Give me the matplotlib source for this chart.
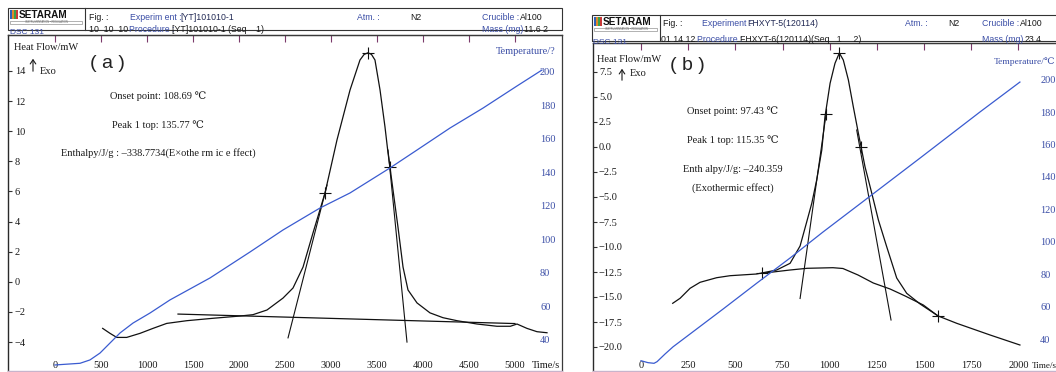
import matplotlib
matplotlib.use('Agg')
import matplotlib.pyplot as plt
from matplotlib.patches import Rectangle, FancyArrowPatch
from matplotlib.lines import Line2D

W, H = 1056, 372
SERIF = ['Liberation Serif', 'DejaVu Serif']
SANS = ['Liberation Sans', 'DejaVu Sans']
plt.rcParams['font.family'] = SERIF
BLUE_LINE = '#3a5bd0'
BLUE_TXT = '#3b4ea6'
TICK_PURPLE = '#7b3a6b'
INK = '#1a1a1a'

# ---------------- data: panel (a) ----------------
time_ticks_a = [0, 500, 1000, 1500, 2000, 2500, 3000, 3500, 4000, 4500, 5000]
hf_ticks_a = [-4, -2, 0, 2, 4, 6, 8, 10, 12, 14]
hf_labels_a = ['\u22124', '\u22122', '0', '2', '4', '6', '8', '10', '12', '14']
temp_ticks = [40, 60, 80, 100, 120, 140, 160, 180, 200]

time_a_temp = [0, 272, 380, 489, 598, 707, 848, 1033, 1250, 1685, 2120, 2478,
               2880, 3207, 3641, 3935, 4293, 4652, 5022, 5293]
temp_a = [25.1, 26.1, 28.1, 32.2, 38.2, 44.2, 50.1, 56.1, 63.9, 77.0, 92.5, 105.6,
          118.7, 127.7, 142.6, 153.3, 166.4, 178.3, 191.5, 201.0]

time_a_hf = [518, 598, 671, 779, 924, 1065, 1214, 1432, 1717, 2011, 2152, 2304,
             2478, 2587, 2696, 2804, 2935, 3065, 3207, 3315, 3360, 3402, 3440, 3478,
             3533, 3587, 3620, 3641, 3674, 3728, 3783, 3837, 3935, 4076, 4217, 4370,
             4587, 4804, 4950, 5022, 5130, 5239, 5348]
hf_a = [-3.09, -3.42, -3.69, -3.69, -3.42, -3.09, -2.76, -2.58, -2.42, -2.27, -2.18, -1.87,
        -1.08, -0.41, 0.98, 3.24, 5.90, 9.42, 12.74, 14.73, 15.10, 15.21, 15.10, 14.73,
        12.74, 10.28, 8.55, 7.62, 6.10, 3.64, 0.98, -0.54, -1.40, -2.06, -2.38, -2.58,
        -2.80, -2.95, -2.95, -2.80, -3.09, -3.31, -3.38]

base_a_time = [1337, 5000]
base_a_hf = [-2.14, -2.77]
tan1_a_time = [2533, 2957]
tan1_a_hf = [-3.72, 6.43]
tan2_a_time = [3620, 3826]
tan2_a_hf = [8.75, -4.0]
mark_a_time = [2935, 3641, 3402]
mark_a_hf = [5.9, 7.62, 15.21]

# ---------------- data: panel (b) ----------------
time_ticks_b = [0, 250, 500, 750, 1000, 1250, 1500, 1750, 2000]
hf_ticks_b = [-20.0, -17.5, -15.0, -12.5, -10.0, -7.5, -5.0, -2.5, 0.0, 2.5, 5.0, 7.5]
hf_labels_b = ['\u221220.0', '\u221217.5', '\u221215.0', '\u221212.5', '\u221210.0',
               '\u22127.5', '\u22125.0', '\u22122.5', '0.0', '2.5', '5.0', '7.5']

time_b_temp = [0, 37, 69, 85, 127, 170, 260, 435, 615, 790, 964, 1229, 1479, 1796, 2008]
temp_b = [26.6, 25.4, 25.0, 26.0, 30.7, 35.2, 43.1, 58.5, 74.6, 90.0, 106.0, 129.5,
          151.7, 180.1, 198.6]

time_b_hf = [168, 207, 260, 313, 401, 472, 613, 719, 790, 843, 878, 905, 931, 958, 975,
             1002, 1028, 1051, 1072, 1099, 1125, 1152, 1187, 1223, 1258, 1302, 1355,
             1408, 1479, 1575, 1673, 1850, 2008]
hf_b = [-15.63, -15.13, -14.13, -13.53, -13.07, -12.87, -12.70, -12.30, -11.63, -9.90,
        -7.50, -5.63, -3.30, -0.30, 3.03, 6.37, 8.37, 9.40, 8.70, 6.70, 4.03, 1.37,
        -1.97, -4.63, -7.30, -9.97, -13.10, -14.63, -15.70, -16.90, -17.63, -18.80, -19.80]

base_b_time = [641, 790, 880, 1017, 1070, 1150, 1231, 1320, 1400, 1496, 1574]
base_b_hf = [-12.63, -12.30, -12.13, -12.07, -12.15, -12.8, -13.6, -14.2, -14.9, -15.8, -16.9]
tan1_b_time = [843, 983]
tan1_b_hf = [-15.15, 3.6]
tan2_b_time = [1143, 1325]
tan2_b_hf = [1.7, -17.3]
mark_b_time = [980, 1164, 1051, 641, 1574]
mark_b_hf = [3.3, 0.0, 9.4, -12.63, -16.9]

# ---------------- figure ----------------
fig = plt.figure(figsize=(W / 100, H / 100), dpi=100)
fig.patch.set_facecolor('white')


def rect(x0, y0, x1, y1):
    return [x0 / W, 1 - y1 / H, (x1 - x0) / W, (y1 - y0) / H]


def fx(x):
    return x / W


def fy(y):
    return 1 - y / H


def ftext(x, y, s, **kw):
    kw.setdefault('fontsize', 6.3)
    kw.setdefault('family', SANS)
    kw.setdefault('va', 'center')
    fig.text(fx(x), fy(y), s, **kw)


def fline(xs, ys, **kw):
    kw.setdefault('color', '#333333')
    kw.setdefault('lw', 0.8)
    fig.add_artist(Line2D([fx(v) for v in xs], [fy(v) for v in ys], **kw))


def frect(x0, y0, x1, y1, **kw):
    kw.setdefault('fill', False)
    kw.setdefault('ec', '#333333')
    kw.setdefault('lw', 0.8)
    fig.add_artist(Rectangle((fx(x0), fy(y1)), (x1 - x0) / W, (y1 - y0) / H,
                             transform=fig.transFigure, **kw))


def logo(x0, y0, x1):
    cols = ['#2e5fb8', '#e08a2a', '#3aa14a', '#c83a3a']
    for i, c in enumerate(cols):
        frect(x0 + 2 + i * 2, y0 + 2, x0 + 4 + i * 2, y0 + 11, fill=True, ec='none', fc=c)
    ftext(x0 + 11, y0 + 7, 'SETARAM', fontsize=7.2, weight='bold', color='#111111')
    frect(x0 + 2, y0 + 12.5, x1 - 3, y0 + 16, lw=0.4, ec='#777777')
    ftext((x0 + x1) / 2, y0 + 14.3, 'INSTRUMENTATION \u2022 REGULATION', fontsize=1.8,
          ha='center', color='#666666')


def header(x0, y0, x1, y1, xdiv, rows):
    frect(x0, y0, x1, y1)
    fline([xdiv, xdiv], [y0, y1])
    logo(x0, y0, xdiv)
    for (x, y, s, c) in rows:
        ftext(x, y, s, color=c)


# header (a)
header(8, 8, 562, 30, 85, [
    (89, 17, 'Fig. :', INK), (130, 17, 'Experim ent :', BLUE_TXT), (180, 17, '[YT]101010-1', '#222a55'),
    (357, 17, '\u0391tm. :', BLUE_TXT), (410, 17, 'N2', INK),
    (482, 17, 'Crucible :', BLUE_TXT), (520, 17, 'Al100', INK),
    (89, 29, '10  10  10', INK), (129, 29, 'Procedure :', BLUE_TXT), (172, 29, '[YT]101010-1 (Seq    1)', INK),
    (482, 29, 'Mass (mg)', BLUE_TXT), (524, 29, '11.6 2', INK),
])
ftext(10, 33, 'DSC 131', color=BLUE_TXT, fontsize=6)

# header (b)
header(592, 15, 1062, 41, 660, [
    (663, 23, 'Fig. :', INK), (702, 23, 'Experiment :', BLUE_TXT), (747, 23, 'FHXYT-5(120114)', '#222a55'),
    (905, 23, 'Atm. :', BLUE_TXT), (948, 23, 'N2', INK),
    (982, 23, 'Crucible :', BLUE_TXT), (1020, 23, 'Al100', INK),
    (661, 40, '01 14 12', INK), (697, 40, 'Procedure :', BLUE_TXT), (740, 40, 'FHXYT-6(120114)(Seq   1     2)', INK),
    (982, 40, 'Mass (mg)', BLUE_TXT), (1025, 40, '23.4', INK),
])
ftext(593, 42.5, 'DSC 131', color=BLUE_TXT, fontsize=6)


def make_panel(box, xlim, ylim, tlim, time_ticks, hf_ticks, hf_labels, ypad, rpad,
               show_right):
    ax = fig.add_axes(rect(*box))
    ax.set_xlim(*xlim)
    ax.set_ylim(*ylim)
    ax2 = ax.twinx()
    ax2.set_ylim(*tlim)
    for s in ax2.spines.values():
        s.set_visible(False)
    ax.spines['left'].set_color('#2a2a2a')
    ax.spines['left'].set_linewidth(1.0)
    ax.spines['top'].set_color('#3a3a3a')
    ax.spines['top'].set_linewidth(0.9)
    ax.spines['bottom'].set_color('#c8b4cc')
    ax.spines['bottom'].set_linewidth(1.0)
    ax.spines['right'].set_visible(show_right)
    ax.spines['right'].set_color('#3a3a3a')
    ax.spines['right'].set_linewidth(0.9)

    ax.set_xticks(time_ticks, labels=[str(t) for t in time_ticks])
    ax.tick_params(axis='x', direction='in', length=0, pad=-7.2, labelsize=7.5,
                   labelcolor=INK)
    ax.set_yticks(hf_ticks, labels=hf_labels)
    ax.tick_params(axis='y', direction='in', length=3, width=0.8, pad=ypad,
                   labelsize=7.5, labelcolor=INK, color='#333333')
    for lab in ax.get_yticklabels():
        lab.set_horizontalalignment('left')

    ax2.set_yticks(temp_ticks, labels=[str(t) for t in temp_ticks])
    ax2.tick_params(axis='y', direction='in', length=0, pad=rpad, labelsize=7.5,
                    labelcolor=BLUE_TXT)

    sec = ax.secondary_xaxis('top')
    sec.set_xticks(time_ticks)
    sec.set_xticklabels([])
    sec.tick_params(direction='in', length=5, width=0.8, color=TICK_PURPLE)
    sec.spines['top'].set_color('#3a3a3a')
    sec.spines['top'].set_linewidth(0.9)
    return ax, ax2


# panel (a)
ax_a, ax_a2 = make_panel((8, 35, 562, 371), (-511, 5511), (-5.92, 16.39), (21.5, 221.9),
                         time_ticks_a, hf_ticks_a, hf_labels_a, -5.0, -15.8, True)
ax_a.plot(time_a_hf, hf_a, color='#111111', lw=0.9)
ax_a.plot(base_a_time, base_a_hf, color='#111111', lw=0.9)
ax_a.plot(tan1_a_time, tan1_a_hf, color='#111111', lw=0.8)
ax_a.plot(tan2_a_time, tan2_a_hf, color='#111111', lw=0.8)
ax_a.plot(mark_a_time, mark_a_hf, ls='none', marker='+', ms=8, mew=0.8, color='#111111')
ax_a2.plot(time_a_temp, temp_a, color=BLUE_LINE, lw=0.9)

# panel (b)
ax_b, ax_b2 = make_panel((593, 43, 1070, 371), (-254.4, 2273.4), (-22.4, 10.4), (20.25, 222.7),
                         time_ticks_b, hf_ticks_b, hf_labels_b, -4.3, -21.5, False)
ax_b.plot(time_b_hf, hf_b, color='#111111', lw=0.9)
ax_b.plot(base_b_time, base_b_hf, color='#111111', lw=0.9)
ax_b.plot(tan1_b_time, tan1_b_hf, color='#111111', lw=0.8)
ax_b.plot(tan2_b_time, tan2_b_hf, color='#111111', lw=0.8)
ax_b.plot(mark_b_time, mark_b_hf, ls='none', marker='+', ms=8, mew=0.8, color='#111111')
ax_b2.plot(time_b_temp, temp_b, color=BLUE_LINE, lw=0.9)

# axis titles and annotations (serif)
TS = 7.5
ftext(14, 47, 'Heat Flow/mW', family=SERIF, fontsize=TS, color=INK)
ftext(40, 72, 'Exo', family=SERIF, fontsize=TS, color=INK)
ftext(107, 63, '( a )', family=SANS, fontsize=14, ha='center', color='#222222')
ftext(496, 52, 'Temperature/?', family=SERIF, fontsize=TS, color=BLUE_TXT)
ftext(532, 366, 'Time/s', family=SERIF, fontsize=TS, color=INK)
ftext(158, 96, 'Onset point: 108.69 \u2103', family=SERIF, fontsize=TS, ha='center', color=INK)
ftext(158, 125, 'Peak 1 top: 135.77 \u2103', family=SERIF, fontsize=TS, ha='center', color=INK)
ftext(158, 153, 'Enthalpy/J/g : \u2013338.7734(E\u00d7othe rm ic e ffect)', family=SERIF,
      fontsize=TS, ha='center', color=INK)

ftext(597, 60, 'Heat Flow/mW', family=SERIF, fontsize=TS, color=INK)
ftext(630, 74, 'Exo', family=SERIF, fontsize=TS, color=INK)
ftext(687, 66, '( b )', family=SANS, fontsize=14, ha='center', color='#222222')
ftext(994, 62, 'Temperature/\u2103', family=SERIF, fontsize=6.8, color=BLUE_TXT)
ftext(1032, 366, 'Time/s', family=SERIF, fontsize=6.6, color=INK)
ftext(733, 111, 'Onset point: 97.43 \u2103', family=SERIF, fontsize=TS, ha='center', color=INK)
ftext(733, 140, 'Peak 1 top: 115.35 \u2103', family=SERIF, fontsize=TS, ha='center', color=INK)
ftext(733, 170, 'Enth alpy/J/g: \u2013240.359', family=SERIF, fontsize=TS, ha='center', color=INK)
ftext(733, 188, '(Exothermic effect)', family=SERIF, fontsize=TS, ha='center', color=INK)

# Exo arrows
for (x, ytop, ybot) in [(33, 56, 74), (622, 66, 83)]:
    fig.add_artist(FancyArrowPatch(
        (fx(x), fy(ybot)), (fx(x), fy(ytop)), transform=fig.transFigure,
        arrowstyle='->,head_length=3,head_width=2', lw=0.8, color=INK))

fig.savefig('out.png', dpi=100, facecolor='white')
